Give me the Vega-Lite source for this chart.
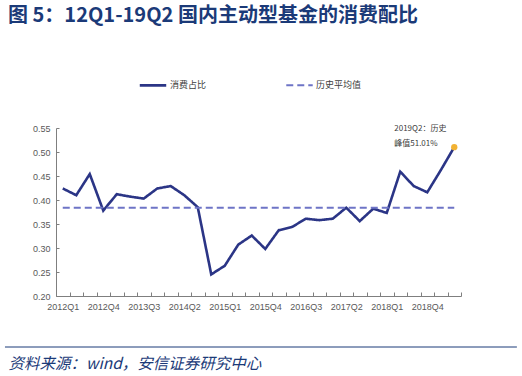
{
  "$schema": "https://vega.github.io/schema/vega-lite/v6.json",
  "autosize": "none",
  "width": 405,
  "height": 168,
  "padding": {"left": 56, "top": 128, "right": 61, "bottom": 80},
  "background": "white",
  "config": {
    "view": {"stroke": null},
    "font": "Liberation Sans",
    "text": {"lineBreak": "\n"}
  },
  "title": {
    "text": "图 5：12Q1-19Q2 国内主动型基金的消费配比",
    "anchor": "start",
    "frame": "group",
    "orient": "top",
    "font": "Noto Sans CJK SC",
    "fontSize": 20,
    "fontWeight": "bold",
    "color": "#1B3A78",
    "dx": -48,
    "offset": 44
  },
  "resolve": {"scale": {"x": "independent"}},
  "data": {
    "values": [
      {"q": "2012Q1", "消费占比": 0.424, "历史平均值": 0.384},
      {"q": "2012Q2", "消费占比": 0.410, "历史平均值": 0.384},
      {"q": "2012Q3", "消费占比": 0.454, "历史平均值": 0.384},
      {"q": "2012Q4", "消费占比": 0.378, "历史平均值": 0.384},
      {"q": "2013Q1", "消费占比": 0.412, "历史平均值": 0.384},
      {"q": "2013Q2", "消费占比": 0.407, "历史平均值": 0.384},
      {"q": "2013Q3", "消费占比": 0.403, "历史平均值": 0.384},
      {"q": "2013Q4", "消费占比": 0.424, "历史平均值": 0.384},
      {"q": "2014Q1", "消费占比": 0.429, "历史平均值": 0.384},
      {"q": "2014Q2", "消费占比": 0.410, "历史平均值": 0.384},
      {"q": "2014Q3", "消费占比": 0.385, "历史平均值": 0.384},
      {"q": "2014Q4", "消费占比": 0.245, "历史平均值": 0.384},
      {"q": "2015Q1", "消费占比": 0.263, "历史平均值": 0.384},
      {"q": "2015Q2", "消费占比": 0.307, "历史平均值": 0.384},
      {"q": "2015Q3", "消费占比": 0.326, "历史平均值": 0.384},
      {"q": "2015Q4", "消费占比": 0.298, "历史平均值": 0.384},
      {"q": "2016Q1", "消费占比": 0.337, "历史平均值": 0.384},
      {"q": "2016Q2", "消费占比": 0.344, "历史平均值": 0.384},
      {"q": "2016Q3", "消费占比": 0.361, "历史平均值": 0.384},
      {"q": "2016Q4", "消费占比": 0.358, "历史平均值": 0.384},
      {"q": "2017Q1", "消费占比": 0.361, "历史平均值": 0.384},
      {"q": "2017Q2", "消费占比": 0.384, "历史平均值": 0.384},
      {"q": "2017Q3", "消费占比": 0.356, "历史平均值": 0.384},
      {"q": "2017Q4", "消费占比": 0.382, "历史平均值": 0.384},
      {"q": "2018Q1", "消费占比": 0.373, "历史平均值": 0.384},
      {"q": "2018Q2", "消费占比": 0.459, "历史平均值": 0.384},
      {"q": "2018Q3", "消费占比": 0.429, "历史平均值": 0.384},
      {"q": "2018Q4", "消费占比": 0.416, "历史平均值": 0.384},
      {"q": "2019Q1", "消费占比": 0.462, "历史平均值": 0.384},
      {"q": "2019Q2", "消费占比": 0.5101, "历史平均值": 0.384, "note": "2019Q2：历史\n峰值51.01%"}
    ]
  },
  "layer": [
    {
      "encoding": {
        "x": {
          "field": "q",
          "type": "ordinal",
          "sort": null,
          "scale": {"type": "band", "paddingInner": 0, "paddingOuter": 0},
          "axis": {
            "title": "资料来源：wind，安信证券研究中心",
            "titleFont": "Noto Sans CJK SC",
            "titleFontSize": 15.5,
            "titleFontWeight": "normal",
            "titleFontStyle": "italic",
            "titleColor": "#1B3A78",
            "titleAnchor": "start",
            "titleAlign": "left",
            "titleBaseline": "alphabetic",
            "titleX": -48,
            "titleY": 72,
            "labelAngle": 0,
            "labelFontSize": 9,
            "labelColor": "#595959",
            "labelPadding": 10,
            "labelExpr": "indexof(['2012Q1','2012Q4','2013Q3','2014Q2','2015Q1','2015Q4','2016Q3','2017Q2','2018Q1','2018Q4'], datum.value) >= 0 ? datum.value : ''",
            "tickBand": "extent",
            "tickSize": -4,
            "tickColor": "#7F7F7F",
            "domainColor": "#7F7F7F",
            "grid": false
          }
        },
        "y": {
          "field": "value",
          "type": "quantitative",
          "scale": {"domain": [0.2, 0.55], "nice": false, "zero": false},
          "axis": {
            "title": null,
            "values": [0.2, 0.25, 0.3, 0.35, 0.4, 0.45, 0.5, 0.55],
            "format": ".2f",
            "labelOverlap": false,
            "labelFlush": false,
            "labelFontSize": 9,
            "labelColor": "#595959",
            "labelPadding": 9,
            "tickSize": -3,
            "tickColor": "#7F7F7F",
            "domainColor": "#7F7F7F",
            "grid": false
          }
        }
      },
      "layer": [
        {
          "transform": [{"fold": ["消费占比", "历史平均值"], "as": ["series", "value"]}],
          "mark": {"type": "line"},
          "encoding": {
            "color": {
              "field": "series",
              "type": "nominal",
              "scale": {"domain": ["消费占比", "历史平均值"], "range": ["#2B3586", "#6E74C6"]},
              "legend": {
                "title": null,
                "orient": "none",
                "legendX": 82,
                "legendY": -58,
                "direction": "horizontal",
                "symbolType": "stroke",
                "symbolSize": 700,
                "symbolStrokeWidth": 2.5,
                "labelFont": "Noto Sans CJK SC",
                "labelFontSize": 9,
                "labelColor": "#404040",
                "labelOffset": 2,
                "columnPadding": 75
              }
            },
            "strokeDash": {
              "field": "series",
              "type": "nominal",
              "scale": {"domain": ["消费占比", "历史平均值"], "range": [[1, 0], [7, 4]]},
              "legend": null
            },
            "strokeWidth": {
              "field": "series",
              "type": "nominal",
              "scale": {"domain": ["消费占比", "历史平均值"], "range": [2.6, 2]},
              "legend": null
            }
          }
        },
        {
          "transform": [{"filter": "datum.note"}, {"fold": ["消费占比"], "as": ["series", "value"]}],
          "mark": {"type": "point", "filled": true, "size": 40, "color": "#F2B233", "opacity": 1}
        },
        {
          "transform": [{"filter": "datum.note"}, {"fold": ["消费占比"], "as": ["series", "value"]}],
          "mark": {"type": "text", "align": "left", "baseline": "middle", "dx": -60, "dy": -18, "fontSize": 8, "color": "#404040", "font": "Noto Sans CJK SC", "lineHeight": 15},
          "encoding": {"text": {"field": "note"}}
        }
      ]
    },
    {
      "data": {"values": [{}]},
      "mark": {"type": "rule", "color": "#1B3A78", "strokeWidth": 1, "clip": false},
      "encoding": {
        "x": {"datum": -0.126, "type": "quantitative", "scale": {"domain": [0, 1], "nice": false, "zero": false}, "axis": null},
        "x2": {"datum": 1.138},
        "y": {
          "datum": 0.09375,
          "type": "quantitative",
          "scale": {"domain": [0.2, 0.55], "nice": false, "zero": false},
          "axis": {
            "title": null,
            "values": [0.2, 0.25, 0.3, 0.35, 0.4, 0.45, 0.5, 0.55],
            "format": ".2f",
            "labelOverlap": false,
            "labelFlush": false,
            "labelFontSize": 9,
            "labelColor": "#595959",
            "labelPadding": 9,
            "tickSize": -3,
            "tickColor": "#7F7F7F",
            "domainColor": "#7F7F7F",
            "grid": false
          }
        }
      }
    }
  ]
}
